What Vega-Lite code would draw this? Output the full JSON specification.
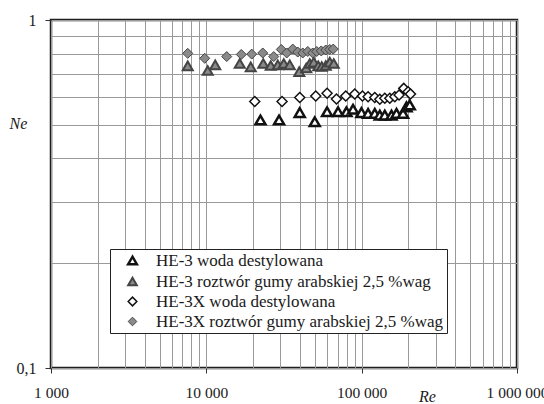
{
  "$schema": "https://vega.github.io/schema/vega-lite/v6.json",
  "width": 466,
  "height": 348,
  "autosize": {"type": "none"},
  "padding": {"left": 51, "top": 20, "right": 27, "bottom": 36},
  "background": "white",
  "config": {
    "view": {"stroke": "#1f1f1f", "strokeWidth": 2.5},
    "font": "Liberation Serif"
  },
  "data": {
    "values": [
      {"Re": 22310, "Ne": 0.516, "series": "HE-3 woda destylowana"},
      {"Re": 29390, "Ne": 0.516, "series": "HE-3 woda destylowana"},
      {"Re": 39940, "Ne": 0.542, "series": "HE-3 woda destylowana"},
      {"Re": 49890, "Ne": 0.510, "series": "HE-3 woda destylowana"},
      {"Re": 59880, "Ne": 0.545, "series": "HE-3 woda destylowana"},
      {"Re": 70470, "Ne": 0.545, "series": "HE-3 woda destylowana"},
      {"Re": 79820, "Ne": 0.545, "series": "HE-3 woda destylowana"},
      {"Re": 88020, "Ne": 0.554, "series": "HE-3 woda destylowana"},
      {"Re": 99700, "Ne": 0.542, "series": "HE-3 woda destylowana"},
      {"Re": 109970, "Ne": 0.539, "series": "HE-3 woda destylowana"},
      {"Re": 121440, "Ne": 0.539, "series": "HE-3 woda destylowana"},
      {"Re": 130840, "Ne": 0.533, "series": "HE-3 woda destylowana"},
      {"Re": 140850, "Ne": 0.533, "series": "HE-3 woda destylowana"},
      {"Re": 155560, "Ne": 0.533, "series": "HE-3 woda destylowana"},
      {"Re": 167560, "Ne": 0.539, "series": "HE-3 woda destylowana"},
      {"Re": 184780, "Ne": 0.539, "series": "HE-3 woda destylowana"},
      {"Re": 194320, "Ne": 0.563, "series": "HE-3 woda destylowana"},
      {"Re": 204040, "Ne": 0.570, "series": "HE-3 woda destylowana"},

      {"Re": 7590, "Ne": 0.738, "series": "HE-3 roztwór gumy arabskiej 2,5 %wag"},
      {"Re": 10210, "Ne": 0.716, "series": "HE-3 roztwór gumy arabskiej 2,5 %wag"},
      {"Re": 11410, "Ne": 0.743, "series": "HE-3 roztwór gumy arabskiej 2,5 %wag"},
      {"Re": 16410, "Ne": 0.750, "series": "HE-3 roztwór gumy arabskiej 2,5 %wag"},
      {"Re": 19310, "Ne": 0.733, "series": "HE-3 roztwór gumy arabskiej 2,5 %wag"},
      {"Re": 23250, "Ne": 0.750, "series": "HE-3 roztwór gumy arabskiej 2,5 %wag"},
      {"Re": 25980, "Ne": 0.740, "series": "HE-3 roztwór gumy arabskiej 2,5 %wag"},
      {"Re": 28830, "Ne": 0.743, "series": "HE-3 roztwór gumy arabskiej 2,5 %wag"},
      {"Re": 31500, "Ne": 0.750, "series": "HE-3 roztwór gumy arabskiej 2,5 %wag"},
      {"Re": 34440, "Ne": 0.743, "series": "HE-3 roztwór gumy arabskiej 2,5 %wag"},
      {"Re": 39650, "Ne": 0.711, "series": "HE-3 roztwór gumy arabskiej 2,5 %wag"},
      {"Re": 43990, "Ne": 0.728, "series": "HE-3 roztwór gumy arabskiej 2,5 %wag"},
      {"Re": 46330, "Ne": 0.750, "series": "HE-3 roztwór gumy arabskiej 2,5 %wag"},
      {"Re": 49150, "Ne": 0.757, "series": "HE-3 roztwór gumy arabskiej 2,5 %wag"},
      {"Re": 52540, "Ne": 0.738, "series": "HE-3 roztwór gumy arabskiej 2,5 %wag"},
      {"Re": 55340, "Ne": 0.735, "series": "HE-3 roztwór gumy arabskiej 2,5 %wag"},
      {"Re": 58740, "Ne": 0.740, "series": "HE-3 roztwór gumy arabskiej 2,5 %wag"},
      {"Re": 62320, "Ne": 0.757, "series": "HE-3 roztwór gumy arabskiej 2,5 %wag"},
      {"Re": 66120, "Ne": 0.750, "series": "HE-3 roztwór gumy arabskiej 2,5 %wag"},

      {"Re": 20500, "Ne": 0.583, "series": "HE-3X woda destylowana"},
      {"Re": 30720, "Ne": 0.583, "series": "HE-3X woda destylowana"},
      {"Re": 39940, "Ne": 0.599, "series": "HE-3X woda destylowana"},
      {"Re": 50630, "Ne": 0.605, "series": "HE-3X woda destylowana"},
      {"Re": 59880, "Ne": 0.616, "series": "HE-3X woda destylowana"},
      {"Re": 68820, "Ne": 0.593, "series": "HE-3X woda destylowana"},
      {"Re": 78990, "Ne": 0.605, "series": "HE-3X woda destylowana"},
      {"Re": 90280, "Ne": 0.613, "series": "HE-3X woda destylowana"},
      {"Re": 101200, "Ne": 0.605, "series": "HE-3X woda destylowana"},
      {"Re": 109970, "Ne": 0.602, "series": "HE-3X woda destylowana"},
      {"Re": 121440, "Ne": 0.599, "series": "HE-3X woda destylowana"},
      {"Re": 130840, "Ne": 0.592, "series": "HE-3X woda destylowana"},
      {"Re": 140850, "Ne": 0.596, "series": "HE-3X woda destylowana"},
      {"Re": 151700, "Ne": 0.596, "series": "HE-3X woda destylowana"},
      {"Re": 163400, "Ne": 0.602, "series": "HE-3X woda destylowana"},
      {"Re": 174130, "Ne": 0.609, "series": "HE-3X woda destylowana"},
      {"Re": 186700, "Ne": 0.636, "series": "HE-3X woda destylowana"},
      {"Re": 198980, "Ne": 0.622, "series": "HE-3X woda destylowana"},
      {"Re": 206170, "Ne": 0.613, "series": "HE-3X woda destylowana"},

      {"Re": 7590, "Ne": 0.802, "series": "HE-3X roztwór gumy arabskiej 2,5 %wag"},
      {"Re": 9765, "Ne": 0.776, "series": "HE-3X roztwór gumy arabskiej 2,5 %wag"},
      {"Re": 13530, "Ne": 0.785, "series": "HE-3X roztwór gumy arabskiej 2,5 %wag"},
      {"Re": 16780, "Ne": 0.796, "series": "HE-3X roztwór gumy arabskiej 2,5 %wag"},
      {"Re": 19600, "Ne": 0.798, "series": "HE-3X roztwór gumy arabskiej 2,5 %wag"},
      {"Re": 23080, "Ne": 0.804, "series": "HE-3X roztwór gumy arabskiej 2,5 %wag"},
      {"Re": 27160, "Ne": 0.785, "series": "HE-3X roztwór gumy arabskiej 2,5 %wag"},
      {"Re": 30370, "Ne": 0.823, "series": "HE-3X roztwór gumy arabskiej 2,5 %wag"},
      {"Re": 32930, "Ne": 0.804, "series": "HE-3X roztwór gumy arabskiej 2,5 %wag"},
      {"Re": 36010, "Ne": 0.825, "series": "HE-3X roztwór gumy arabskiej 2,5 %wag"},
      {"Re": 38780, "Ne": 0.809, "series": "HE-3X roztwór gumy arabskiej 2,5 %wag"},
      {"Re": 41770, "Ne": 0.804, "series": "HE-3X roztwór gumy arabskiej 2,5 %wag"},
      {"Re": 44980, "Ne": 0.812, "series": "HE-3X roztwór gumy arabskiej 2,5 %wag"},
      {"Re": 48430, "Ne": 0.804, "series": "HE-3X roztwór gumy arabskiej 2,5 %wag"},
      {"Re": 51380, "Ne": 0.812, "series": "HE-3X roztwór gumy arabskiej 2,5 %wag"},
      {"Re": 54930, "Ne": 0.815, "series": "HE-3X roztwór gumy arabskiej 2,5 %wag"},
      {"Re": 58740, "Ne": 0.820, "series": "HE-3X roztwór gumy arabskiej 2,5 %wag"},
      {"Re": 62320, "Ne": 0.823, "series": "HE-3X roztwór gumy arabskiej 2,5 %wag"},
      {"Re": 65630, "Ne": 0.825, "series": "HE-3X roztwór gumy arabskiej 2,5 %wag"}
    ]
  },
  "mark": {"type": "point", "opacity": 1, "size": 100},
  "encoding": {
    "x": {
      "field": "Re", "type": "quantitative",
      "scale": {"type": "log", "domain": [1000, 1000000], "nice": false},
      "axis": {
        "values": [1000,2000,3000,4000,5000,6000,7000,8000,9000,10000,20000,30000,40000,50000,60000,70000,80000,90000,100000,200000,300000,400000,500000,600000,700000,800000,900000,1000000],
        "grid": true, "gridColor": "#9a9a9a", "gridWidth": 1,
        "domain": false,
        "tickSize": 5, "tickColor": "#333333", "tickWidth": 1,
        "tickOpacity": {"condition": {"test": "indexof([1000,10000,100000,1000000], datum.value) >= 0", "value": 1}, "value": 0},
        "labelExpr": "datum.value == 1000 ? '1 000' : datum.value == 10000 ? '10 000' : datum.value == 100000 ? '100 000' : datum.value == 1000000 ? '1 000 000' : ''",
        "labelFont": "Liberation Serif", "labelFontSize": 15.5, "labelColor": "#1a1a1a",
        "labelPadding": 12, "labelDx": -9, "labelOverlap": false, "labelFlush": false, "labelBound": false,
        "title": "Re", "titleFont": "Liberation Serif", "titleFontStyle": "italic", "titleFontWeight": "normal",
        "titleFontSize": 16, "titleColor": "#1a1a1a", "titleX": 376, "titleY": 33, "titleBaseline": "alphabetic", "titleAlign": "center", "titleAnchor": null
      }
    },
    "y": {
      "field": "Ne", "type": "quantitative",
      "scale": {"type": "log", "domain": [0.1, 1], "nice": false},
      "axis": {
        "values": [0.1,0.2,0.3,0.4,0.5,0.6,0.7,0.8,0.9,1],
        "grid": true, "gridColor": "#9a9a9a", "gridWidth": 1,
        "domain": false,
        "tickSize": 6, "tickColor": "#333333", "tickWidth": 1,
        "tickOpacity": {"condition": {"test": "datum.value == 1 || datum.value == 0.1", "value": 1}, "value": 0},
        "labelExpr": "datum.value == 1 ? '1' : datum.value == 0.1 ? '0,1' : ''",
        "labelFont": "Liberation Serif", "labelFontSize": 16, "labelColor": "#1a1a1a",
        "labelPadding": 9, "labelOverlap": false, "labelFlush": false, "labelBound": false,
        "title": "Ne", "titleFont": "Liberation Serif", "titleFontStyle": "italic", "titleFontWeight": "normal",
        "titleFontSize": 16, "titleColor": "#1a1a1a", "titleAngle": 0, "titleX": -42, "titleY": 108,
        "titleBaseline": "alphabetic", "titleAlign": "left", "titleAnchor": null
      }
    },
    "shape": {
      "field": "series", "type": "nominal",
      "scale": {
        "domain": ["HE-3 woda destylowana", "HE-3 roztwór gumy arabskiej 2,5 %wag", "HE-3X woda destylowana", "HE-3X roztwór gumy arabskiej 2,5 %wag"],
        "range": ["triangle-up", "triangle-up", "diamond", "diamond"]
      },
      "legend": {
        "orient": "none", "legendX": 59, "legendY": 229, "title": null,
        "padding": 3, "symbolOffset": 11, "labelOffset": 15,
        "strokeColor": "#222222", "fillColor": "white",
        "labelFont": "Liberation Serif", "labelFontSize": 17, "labelColor": "#1a1a1a", "labelLimit": 0,
        "rowPadding": 2, "symbolSize": 75
      }
    },
    "fill": {
      "field": "series", "type": "nominal",
      "scale": {
        "domain": ["HE-3 woda destylowana", "HE-3 roztwór gumy arabskiej 2,5 %wag", "HE-3X woda destylowana", "HE-3X roztwór gumy arabskiej 2,5 %wag"],
        "range": ["white", "#8a8a8a", "white", "#8a8a8a"]
      }
    },
    "stroke": {
      "field": "series", "type": "nominal",
      "scale": {
        "domain": ["HE-3 woda destylowana", "HE-3 roztwór gumy arabskiej 2,5 %wag", "HE-3X woda destylowana", "HE-3X roztwór gumy arabskiej 2,5 %wag"],
        "range": ["#111111", "#444444", "#111111", "#444444"]
      }
    },
    "strokeWidth": {
      "field": "series", "type": "nominal",
      "scale": {
        "domain": ["HE-3 woda destylowana", "HE-3 roztwór gumy arabskiej 2,5 %wag", "HE-3X woda destylowana", "HE-3X roztwór gumy arabskiej 2,5 %wag"],
        "range": [2.5, 1, 2.5, 1]
      }
    }
  }
}
